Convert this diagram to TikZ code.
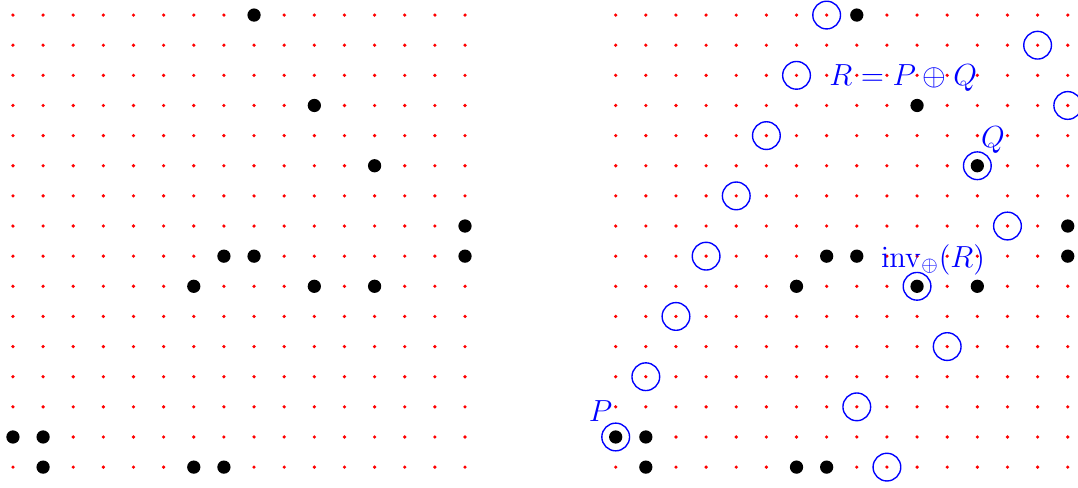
\documentclass[tikz,border=0pt]{standalone}
\usepackage{amsmath, amssymb}
\usepackage{tikz}
\usetikzlibrary{positioning, calc}
\definecolor{GridRed}{RGB}{255, 0, 0}
\definecolor{LineBlue}{RGB}{0, 0, 255}

\tikzset{
  griddot/.style={fill=GridRed},
  curvept/.style={fill=black},
  linept/.style={draw=LineBlue, line width=0.65pt},
  ptlabel/.style={text=LineBlue, font=\Large, inner sep=0pt, anchor=base}
}

\begin{document}
\begin{tikzpicture}[x=0.5cm, y=0.5cm]
            \useasboundingbox (-0.43,-0.66) rectangle (35.34,15.5);
            % left grid: the curve alone
            \begin{scope}
              \foreach \i in {0,...,15} \foreach \j in {0,...,15}
                \fill[griddot] (\i,\j) circle (0.03cm);
              \foreach \p in {(8,15),(10,12),(12,10),(15,8),(15,7),(7,7),(8,7),(6,6),(10,6),(12,6),(0,1),(1,1),(1,0),(6,0),(7,0)}
                \fill[curvept] \p circle (0.11cm);
            \end{scope}
            % right grid: the curve and the line through P and Q
            \begin{scope}[xshift=10cm]
              \foreach \i in {0,...,15} \foreach \j in {0,...,15}
                \fill[griddot] (\i,\j) circle (0.03cm);
              \foreach \p in {(8,15),(10,12),(12,10),(15,8),(15,7),(7,7),(8,7),(6,6),(10,6),(12,6),(0,1),(1,1),(1,0),(6,0),(7,0)}
                \fill[curvept] \p circle (0.11cm);
              \foreach \p in {(0,1),(1,3),(2,5),(3,7),(4,9),(5,11),(6,13),(7,15),(8,2),(9,0),(10,6),(11,4),(12,10),(13,8),(14,14),(15,12)}
                \draw[linept] \p circle (0.23cm);
              \node[ptlabel] (labelP) at (-0.5,1.53) {$P$};
              \node[ptlabel] (labelQ) at (12.52,10.62) {$Q$};
              \node[ptlabel] (labelR) at (9.54,12.65) {$R = P \oplus Q$};
              \node[ptlabel] (labelInv) at (10.53,6.64) {$\mathrm{inv}_{\oplus}(R)$};
            \end{scope}
        \end{tikzpicture}
\end{document}
